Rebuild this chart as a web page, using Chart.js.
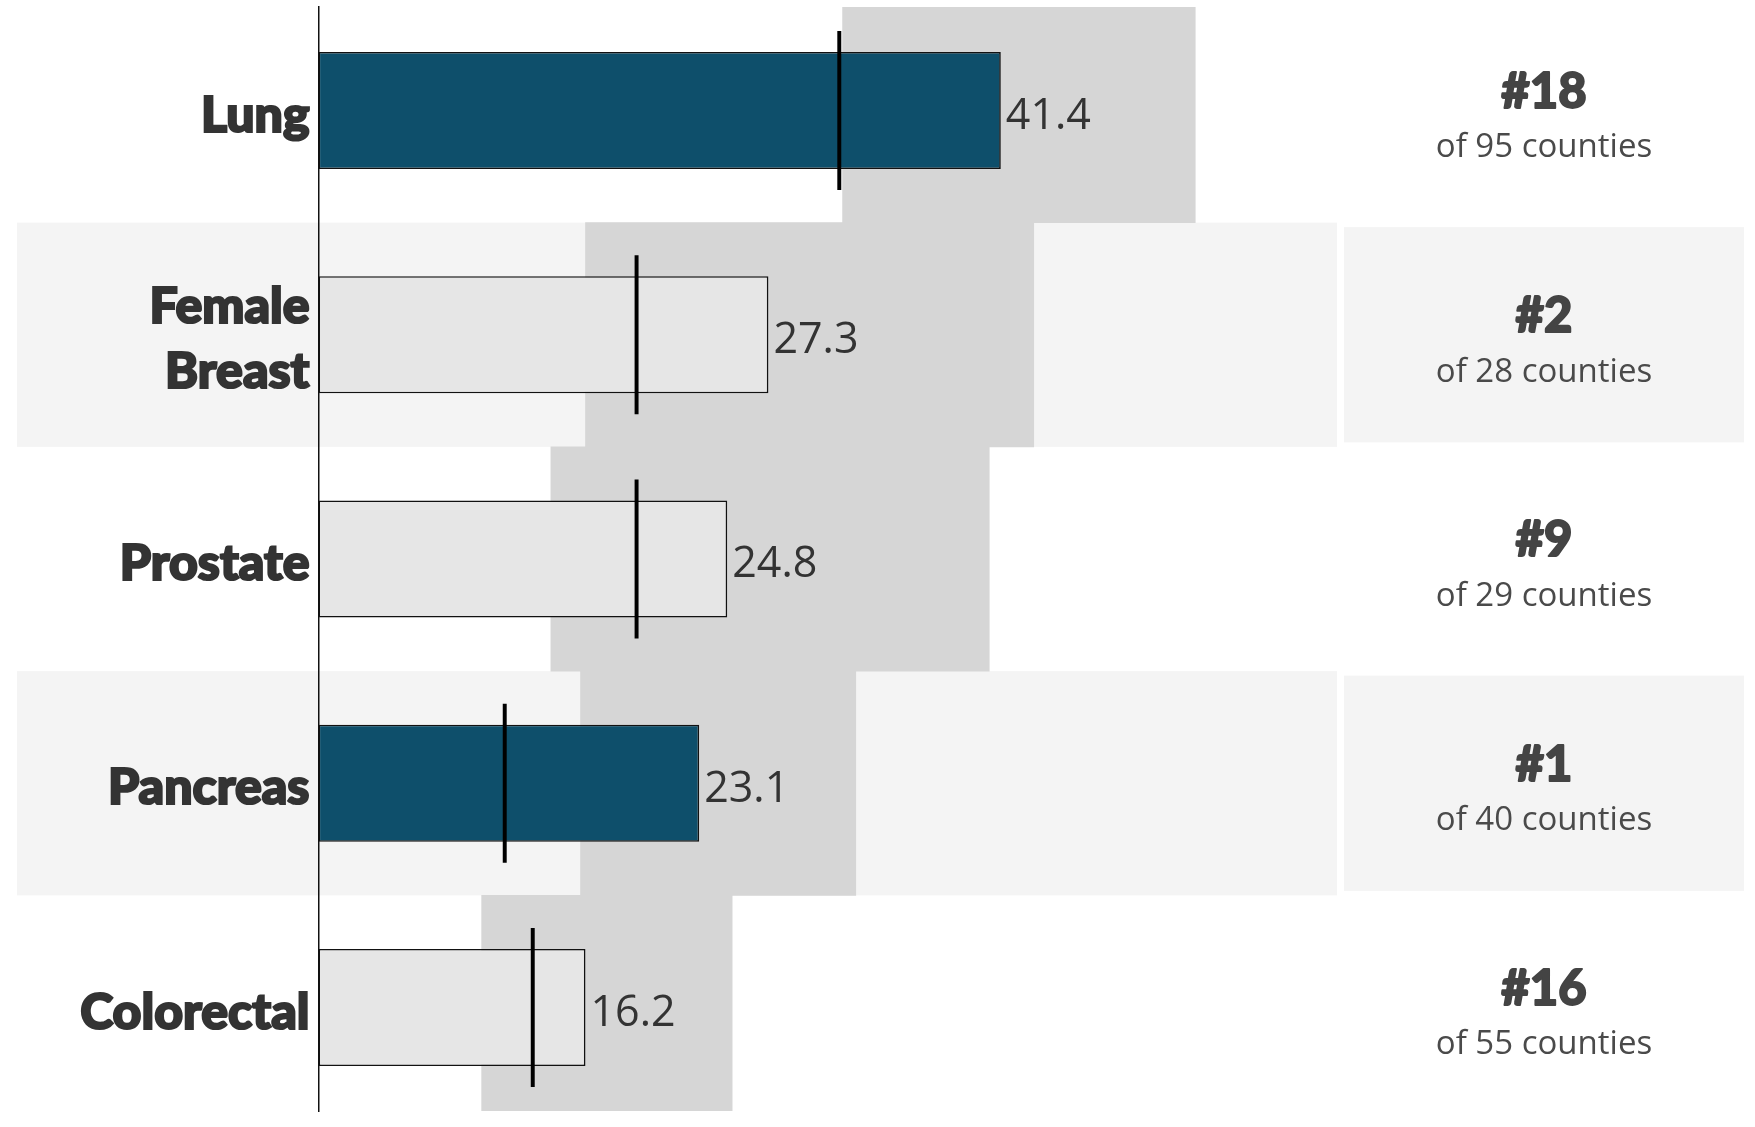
<!DOCTYPE html>
<html><head><meta charset="utf-8">
<script src="https://cdn.jsdelivr.net/npm/chart.js@4"></script>
<style>html,body{margin:0;padding:0;background:#fff}#wrap{width:1755px;height:1127px;position:relative}</style>
</head><body><div id="wrap"><canvas id="c" width="1755" height="1127"></canvas></div>
<script>
const categories = [["Lung"], ["Female", "Breast"], ["Prostate"], ["Pancreas"], ["Colorectal"]];
const rates = [41.4, 27.3, 24.8, 23.1, 16.2];
const targets = [31.6, 19.3, 19.3, 11.3, 13.0];
const rangeLow = [31.8, 16.2, 14.1, 15.9, 9.9];
const rangeHigh = [53.2, 43.4, 40.7, 32.6, 25.1];
const highlighted = [true, false, false, true, false];
const ranks = ["#18", "#2", "#9", "#1", "#16"];
const countyTotals = [95, 28, 29, 40, 55];

const NAVY = '#0e4f6b', LIGHT = '#e6e6e6', RANGE = '#d6d6d6', STRIPE = '#f4f4f4';
const markerHalf = 0.12;

const rangeData = rangeLow.map((lo, i) => ({ x: [lo, rangeHigh[i]], y: i }));
const barData = rates.map((v, i) => ({ x: v, y: i }));
const markerData = targets.map((t, i) => ({ x: [t - markerHalf, t + markerHalf], y: i }));

const backgroundPlugin = {
  id: 'bg',
  beforeDraw(chart) {
    const { ctx } = chart;
    const ys = chart.scales.y;
    ctx.save();
    categories.forEach((c, i) => {
      const top = ys.getPixelForValue(i - 0.5);
      const bot = ys.getPixelForValue(i + 0.5);
      if (i % 2 === 1) {
        ctx.fillStyle = STRIPE;
        ctx.fillRect(17, top, 1337 - 17, bot - top);
        ctx.fillRect(1344, top + 4.5, 1744 - 1344, bot - top - 9);
      }
    });
    ctx.restore();
  },
  afterDraw(chart) {
    const { ctx } = chart;
    const ys = chart.scales.y;
    ctx.save();
    ctx.textAlign = 'center';
    ctx.textBaseline = 'middle';
    ctx.lineJoin = 'round';
    categories.forEach((c, i) => {
      const cy = ys.getPixelForValue(i);
      ctx.fillStyle = '#444';
      ctx.strokeStyle = '#444';
      ctx.lineWidth = 1.8;
      ctx.font = '900 49px Lato';
      ctx.strokeText(ranks[i], 1544, cy - 18.5);
      ctx.fillText(ranks[i], 1544, cy - 18.5);
      ctx.fillStyle = '#4a4a4a';
      ctx.font = '33px "Open Sans"';
      ctx.fillText('of ' + countyTotals[i] + ' counties', 1544, cy + 37.5);
    });
    ctx.restore();
  },
  afterDatasetsDraw(chart) {
    const { ctx } = chart;
    const meta = chart.getDatasetMeta(1);
    ctx.save();
    ctx.fillStyle = '#333';
    ctx.font = '43px "Open Sans"';
    ctx.textAlign = 'left';
    ctx.textBaseline = 'middle';
    meta.data.forEach((el, i) => {
      ctx.fillText(rates[i].toFixed(1), el.x + 5, el.y + 6);
    });
    ctx.restore();
  }
};

new Chart(document.getElementById('c'), {
  type: 'bar',
  data: {
    datasets: [
      { data: rangeData, backgroundColor: RANGE, borderWidth: 0, barPercentage: 1, categoryPercentage: 1, grouped: false, order: 3 },
      { data: barData, backgroundColor: highlighted.map(h => h ? NAVY : LIGHT), borderColor: '#111', borderWidth: 1.6, borderSkipped: false, barPercentage: 0.522, categoryPercentage: 1, grouped: false, order: 2 },
      { data: markerData, backgroundColor: '#000', borderWidth: 0, barPercentage: 0.709, categoryPercentage: 1, grouped: false, order: 1 }
    ]
  },
  options: {
    indexAxis: 'y',
    responsive: false,
    animation: false,
    devicePixelRatio: 1,
    layout: { padding: { left: 0, right: 418, top: 7, bottom: 16 } },
    plugins: { legend: { display: false }, tooltip: { enabled: false } },
    scales: {
      x: { type: 'linear', min: 0, max: 61.8, display: false },
      y: {
        type: 'linear', reverse: true, min: -0.4615, max: 4.4615, offset: false,
        afterBuildTicks(scale) { scale.ticks = categories.map((c, i) => ({ value: i })); },
        afterFit(scale) { scale.width = 318.5; scale.paddingTop = 0; scale.paddingBottom = 0; },
        grid: { display: false, drawTicks: false },
        border: { display: true, color: '#111', width: 1.5 },
        ticks: {
          padding: 9,
          labelOffset: 5,
          color: '#333',
          textStrokeColor: '#333',
          textStrokeWidth: 2.2,
          font: { family: 'Lato', weight: '900', size: 50, lineHeight: 1.3 },
          callback: (v) => categories[v]
        }
      }
    }
  },
  plugins: [backgroundPlugin]
});
</script>
</body></html>
